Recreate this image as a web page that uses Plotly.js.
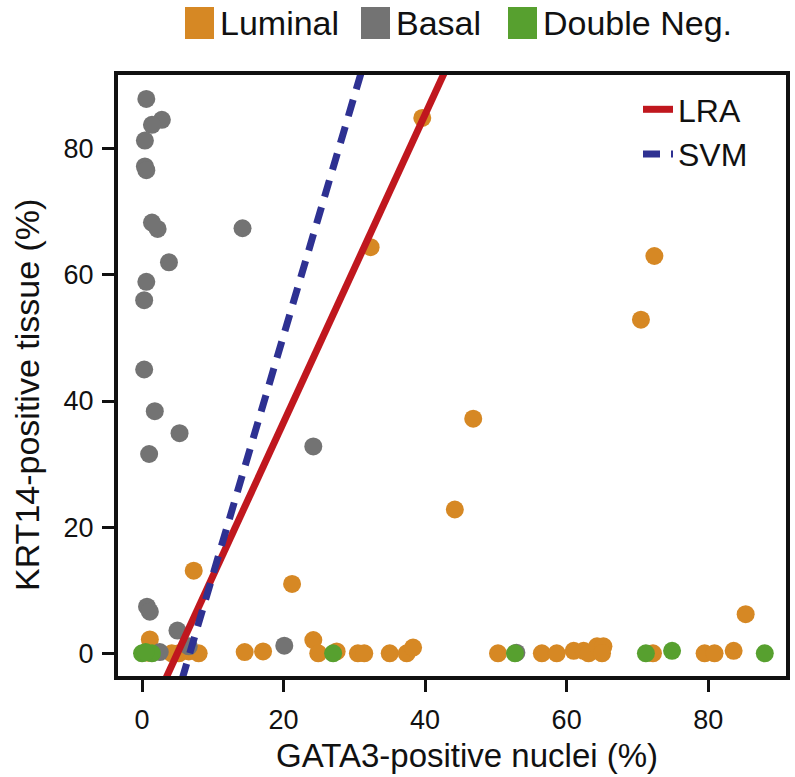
<!DOCTYPE html>
<html>
<head>
<meta charset="utf-8">
<script src="https://cdn.plot.ly/plotly-3.0.1.min.js"></script>
<style>body{margin:0;background:#fff}#chart{width:795px;height:777px}</style>
</head>
<body>
<div id="chart"></div>
<script>
// GATA3-positive nuclei (%) vs KRT14-positive tissue (%)
const luminalX = [39.6, 32.3, 72.4, 70.5, 46.8, 44.2, 7.3, 21.2, 85.3, 1.1, 24.2,
    0.8, 4.2, 5.2, 6.6, 8.0, 14.5, 17.1, 24.9, 27.5, 30.5, 31.4, 35.0, 37.4, 38.3,
    50.3, 56.5, 58.6, 61.0, 62.4, 63.1, 64.3, 65.2, 65.0, 72.2, 79.5, 80.9, 83.6];
const luminalY = [84.9, 64.4, 63.0, 52.9, 37.2, 22.8, 13.1, 11.0, 6.2, 2.2, 2.1,
    0.1, 0.0, 0.0, 0.3, 0.0, 0.2, 0.3, 0.0, 0.3, 0.0, 0.0, 0.0, 0.0, 0.9,
    0.0, 0.0, 0.0, 0.4, 0.4, 0.0, 1.1, 1.1, 0.0, 0.0, 0.0, 0.0, 0.4];

const basalX = [0.6, 2.8, 1.4, 0.4, 0.4, 0.6, 1.4, 2.2, 14.2, 3.8, 0.6, 0.3, 0.3,
    1.8, 5.3, 1.0, 24.2, 0.7, 1.1, 5.0, 6.6, 20.1, 2.5, 52.9];
const basalY = [87.9, 84.6, 83.8, 81.3, 77.2, 76.6, 68.3, 67.3, 67.4, 62.0, 58.9, 56.0, 45.0,
    38.4, 34.9, 31.6, 32.8, 7.4, 6.6, 3.6, 1.1, 1.2, 0.2, 0.1];

const dnegX = [0.0, 1.4, 0.5, 27.0, 52.7, 71.2, 74.9, 88.0];
const dnegY = [0.0, 0.0, 0.2, 0.0, 0.0, 0.0, 0.4, 0.0];

// classifier decision boundaries (end points)
const lraX = [2.0, 44.0];
const lraY = [-7.3, 95.2];
const svmX = [4.5, 32.0];
const svmY = [-8.5, 96.0];

const groups = ["Luminal", "Basal", "Double Neg."];
const colors = ["#d68824", "#737373", "#57a02f"];

const W = 795, H = 777;
const m = { l: 118, r: 9, t: 75, b: 101 };
const px = p => (p - m.l) / (W - m.l - m.r);
const py = p => (H - m.b - p) / (H - m.t - m.b);

const font = "Liberation Sans, Arial, sans-serif";

function points(x, y, i) {
    return {
        x, y, name: groups[i], type: "scatter", mode: "markers", showlegend: false,
        marker: { color: colors[i], size: 18 }
    };
}

function boundary(x, y, name, color, dash) {
    return { x, y, name, type: "scatter", mode: "lines", line: { color, width: 7, dash } };
}

// top legend: coloured blocks with labels
const keyLeft = [185, 361, 508];
const shapes = groups.map((g, i) => ({
    type: "rect", xref: "paper", yref: "paper",
    x0: px(keyLeft[i]), x1: px(keyLeft[i] + 29), y0: py(39), y1: py(7),
    fillcolor: colors[i], line: { width: 0 }
}));
const annotations = groups.map((g, i) => ({
    text: g, xref: "paper", yref: "paper", x: px(keyLeft[i] + 33), y: py(23),
    xanchor: "left", yanchor: "middle", showarrow: false,
    font: { size: 34, color: "#111" }
})).concat([
    {
        text: "GATA3-positive nuclei (%)", xref: "paper", yref: "paper",
        x: px(467), y: py(756), xanchor: "center", yanchor: "middle", showarrow: false,
        font: { size: 33, color: "#111" }
    },
    {
        text: "KRT14-positive tissue (%)", xref: "paper", yref: "paper", textangle: -90,
        x: px(27), y: py(395), xanchor: "center", yanchor: "middle", showarrow: false,
        font: { size: 34, color: "#111" }
    }
]);

const axis = {
    showline: true, mirror: true, linewidth: 4, linecolor: "#111",
    ticks: "outside", ticklen: 12, tickwidth: 3, tickcolor: "#111",
    showgrid: false, zeroline: false, dtick: 20,
    tickfont: { size: 27, color: "#111" }
};

Plotly.newPlot("chart", [
    points(luminalX, luminalY, 0),
    points(basalX, basalY, 1),
    points(dnegX, dnegY, 2),
    boundary(lraX, lraY, "LRA", "#c0171e", "solid"),
    boundary(svmX, svmY, "SVM", "#2e3192", "17px,11px")
], {
    width: W, height: H, margin: m,
    font: { family: font, color: "#111" },
    paper_bgcolor: "#fff", plot_bgcolor: "#fff",
    xaxis: { ...axis, range: [-3.4, 91], ticklabelstandoff: 5 },
    yaxis: { ...axis, range: [-3.6, 91.7], ticklabelstandoff: 3 },
    legend: {
        x: px(638), y: py(82), xanchor: "left", yanchor: "top",
        bgcolor: "rgba(0,0,0,0)", font: { size: 32, color: "#111" }, tracegroupgap: 0
    },
    shapes, annotations
}, { staticPlot: true });
</script>
</body>
</html>
